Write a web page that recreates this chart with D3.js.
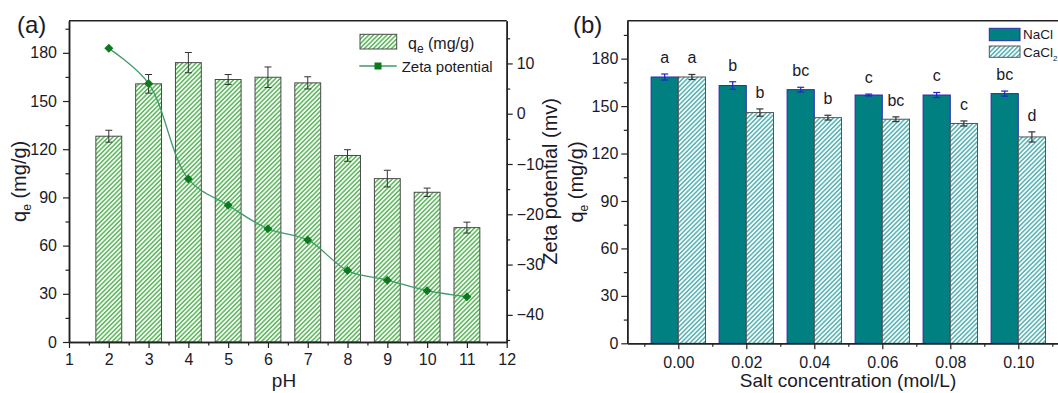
<!DOCTYPE html>
<html>
<head>
<meta charset="utf-8">
<script src="https://cdn.jsdelivr.net/npm/d3@7"></script>
<style>
	body { margin: 0; background: #fff; }
	svg { display: block; font-family: 'Liberation Sans', Arial, sans-serif; }
	.axis path, .axis line { stroke: #222; }
	.axis path { stroke-width: 1.5; }
	.axis line { stroke-width: 1.2; }
	.axis text { fill: #1a1a2a; font-size: 16px; font-family: 'Liberation Sans', Arial, sans-serif; }
</style>
</head>
<body>
<div class="chart"></div>
<script>
// panel (a): adsorption vs pH
const pH = [2, 3, 4, 5, 6, 7, 8, 9, 10, 11]
const qePH = [128.1, 160.7, 173.9, 163.4, 164.8, 161.3, 116.1, 101.7, 93.2, 71.2]
const qePHErr = [3.7, 5.8, 6.3, 3.1, 6.4, 3.8, 3.6, 5.2, 2.6, 3.4]
const zeta = [13.0, 6.0, -13.0, -18.2, -22.9, -25.1, -31.2, -33.1, -35.2, -36.4]
const pHTicks = [1, 2, 3, 4, 5, 6, 7, 8, 9, 10, 11, 12]
const qeTicks = [0, 30, 60, 90, 120, 150, 180]
const zetaTicks = [-40, -30, -20, -10, 0, 10]

// panel (b): salt effect
const salt = [0.00, 0.02, 0.04, 0.06, 0.08, 0.10]
const saltLabels = ['0.00', '0.02', '0.04', '0.06', '0.08', '0.10']
const naCl = [168.4, 163.0, 160.4, 157.0, 157.0, 157.9]
const naClErr = [1.9, 2.4, 1.5, 0.6, 1.6, 1.6]
const caCl2 = [168.4, 145.9, 142.7, 141.7, 139.0, 130.5]
const caCl2Err = [1.6, 2.3, 1.5, 1.5, 1.6, 3.2]
const naClLetters = ['a', 'b', 'bc', 'c', 'c', 'bc']
const caCl2Letters = ['a', 'b', 'b', 'bc', 'c', 'd']

const width = 1058
const height = 393
const textColor = '#1a1a2a'

const svg = d3.select('.chart')
	.append('svg')
	.attr('width', width)
	.attr('height', height)

const defs = svg.append('defs')

function hatch(id, color) {
	const p = defs.append('pattern')
		.attr('id', id)
		.attr('patternUnits', 'userSpaceOnUse')
		.attr('width', 3.2)
		.attr('height', 3.2)
		.attr('patternTransform', 'rotate(45)')
	p.append('rect').attr('width', 3.2).attr('height', 3.2).attr('fill', '#fff')
	p.append('rect').attr('width', 1.6).attr('height', 3.2).attr('fill', color)
}
hatch('hatchGreen', '#62bd62')
hatch('hatchTeal', '#5cb8b8')

function qeLabel(g, x, y) {
	const t = g.append('text')
		.attr('transform', 'translate(' + x + ',' + y + ') rotate(-90)')
		.attr('text-anchor', 'middle')
		.attr('fill', textColor)
		.style('font-size', '20px')
	t.append('tspan').text('q')
	t.append('tspan').attr('dy', 5).style('font-size', '12px').text('e')
	t.append('tspan').attr('dy', -5).text(' (mg/g)')
}

function minorAxis(axisFn, scale, values) {
	return axisFn(scale).tickValues(values).tickSize(3.5).tickSizeOuter(0).tickFormat('')
}

// ---------- panel (a) ----------
const a = { left: 69, right: 506.7, top: 20.7, bottom: 342 }

const xA = d3.scaleLinear().domain([1, 12]).range([a.left, a.right])
const yA = d3.scaleLinear().domain([0, 200]).range([a.bottom, a.top])
const yZ = d3.scaleLinear().domain([-45.4, 18.5]).range([a.bottom, a.top])

const gA = svg.append('g')

gA.selectAll('.barA')
	.data(pH)
	.enter()
	.append('rect')
	.attr('class', 'barA')
	.attr('x', (d) => xA(d - 0.325))
	.attr('width', xA(1.65) - xA(1))
	.attr('y', (d, i) => yA(qePH[i]))
	.attr('height', (d, i) => yA(0) - yA(qePH[i]))
	.attr('fill', 'url(#hatchGreen)')
	.attr('stroke', '#4a4a4a')
	.attr('stroke-width', 1)

const errA = gA.selectAll('.errA')
	.data(pH)
	.enter()
	.append('g')
	.attr('class', 'errA')
	.attr('stroke', '#333')
	.attr('stroke-width', 1)
errA.append('line')
	.attr('x1', (d) => xA(d)).attr('x2', (d) => xA(d))
	.attr('y1', (d, i) => yA(qePH[i] - qePHErr[i]))
	.attr('y2', (d, i) => yA(qePH[i] + qePHErr[i]))
errA.append('line')
	.attr('x1', (d) => xA(d) - 3.5).attr('x2', (d) => xA(d) + 3.5)
	.attr('y1', (d, i) => yA(qePH[i] - qePHErr[i]))
	.attr('y2', (d, i) => yA(qePH[i] - qePHErr[i]))
errA.append('line')
	.attr('x1', (d) => xA(d) - 3.5).attr('x2', (d) => xA(d) + 3.5)
	.attr('y1', (d, i) => yA(qePH[i] + qePHErr[i]))
	.attr('y2', (d, i) => yA(qePH[i] + qePHErr[i]))

const zetaLine = d3.line()
	.x((d, i) => xA(pH[i]))
	.y((d) => yZ(d))
	.curve(d3.curveCatmullRom.alpha(0.5))

gA.append('path')
	.datum(zeta)
	.attr('d', zetaLine)
	.attr('fill', 'none')
	.attr('stroke', '#3e9a68')
	.attr('stroke-width', 1.3)

gA.selectAll('.diamond')
	.data(zeta)
	.enter()
	.append('path')
	.attr('class', 'diamond')
	.attr('d', 'M0,-4.5L4.5,0L0,4.5L-4.5,0Z')
	.attr('transform', (d, i) => 'translate(' + xA(pH[i]) + ',' + yZ(d) + ')')
	.attr('fill', '#0b7a1c')

// frame
gA.append('path')
	.attr('d', 'M' + a.left + ',' + a.top + 'H' + a.right)
	.attr('stroke', '#222').attr('stroke-width', 1.5)

gA.append('g').attr('class', 'axis')
	.attr('transform', 'translate(0,' + a.bottom + ')')
	.call(d3.axisBottom(xA).tickValues(pHTicks).tickSize(6).tickSizeOuter(0).tickPadding(6).tickFormat(d3.format('d')))
gA.append('g').attr('class', 'axis')
	.attr('transform', 'translate(0,' + a.bottom + ')')
	.call(minorAxis(d3.axisBottom, xA, d3.range(1.5, 12, 1)))
gA.append('g').attr('class', 'axis')
	.attr('transform', 'translate(' + a.left + ',0)')
	.call(d3.axisLeft(yA).tickValues(qeTicks).tickSize(6).tickSizeOuter(0).tickPadding(6))
gA.append('g').attr('class', 'axis')
	.attr('transform', 'translate(' + a.left + ',0)')
	.call(minorAxis(d3.axisLeft, yA, d3.range(15, 200, 30)))
gA.append('g').attr('class', 'axis')
	.attr('transform', 'translate(' + a.right + ',0)')
	.call(d3.axisRight(yZ).tickValues(zetaTicks).tickSize(6).tickSizeOuter(0).tickPadding(4))
gA.append('g').attr('class', 'axis')
	.attr('transform', 'translate(' + a.right + ',0)')
	.call(minorAxis(d3.axisRight, yZ, [-45, -35, -25, -15, -5, 5, 15]))

gA.selectAll('.axis .domain').attr('stroke-width', 1.5)

// labels
gA.append('text')
	.attr('x', 17).attr('y', 33)
	.attr('fill', textColor)
	.style('font-size', '24px')
	.text('(a)')
qeLabel(gA, 26, (a.top + a.bottom) / 2)
gA.append('text')
	.attr('transform', 'translate(557,' + (a.top + a.bottom) / 2 + ') rotate(-90)')
	.attr('text-anchor', 'middle')
	.attr('fill', textColor)
	.style('font-size', '20px')
	.text('Zeta potential (mv)')
gA.append('text')
	.attr('x', 284).attr('y', 387)
	.attr('text-anchor', 'middle')
	.attr('fill', textColor)
	.style('font-size', '19px')
	.text('pH')

// legend
gA.append('rect')
	.attr('x', 360).attr('y', 34.3).attr('width', 36.7).attr('height', 14.7)
	.attr('fill', 'url(#hatchGreen)').attr('stroke', '#4a4a4a')
const legQ = gA.append('text')
	.attr('x', 408).attr('y', 48.5)
	.attr('fill', textColor)
	.style('font-size', '16px')
legQ.append('tspan').text('q')
legQ.append('tspan').attr('dy', 4).style('font-size', '12px').text('e')
legQ.append('tspan').attr('dy', -4).text(' (mg/g)')
gA.append('line')
	.attr('x1', 359.3).attr('x2', 396.7).attr('y1', 66).attr('y2', 66)
	.attr('stroke', '#3e9a68').attr('stroke-width', 1.3)
gA.append('rect')
	.attr('x', 374.5).attr('y', 62.5).attr('width', 7).attr('height', 7)
	.attr('fill', '#0b7a1c')
gA.append('text')
	.attr('x', 401.7).attr('y', 71.5)
	.attr('fill', textColor)
	.style('font-size', '15px')
	.text('Zeta potential')

// ---------- panel (b) ----------
const b = { left: 627.3, right: 1069.3, top: 20.7, bottom: 343.3 }

const xB = d3.scaleLinear().domain([-0.015, 0.115]).range([b.left, b.right])
const yB = d3.scaleLinear().domain([0, 204]).range([b.bottom, b.top])
const bw = 0.008

const gB = svg.append('g')

function drawSeries(vals, errs, letters, offset, fill, stroke, errColor) {
	gB.selectAll(null)
		.data(salt)
		.enter()
		.append('rect')
		.attr('x', (d) => xB(d + offset))
		.attr('width', xB(bw) - xB(0))
		.attr('y', (d, i) => yB(vals[i]))
		.attr('height', (d, i) => yB(0) - yB(vals[i]))
		.attr('fill', fill)
		.attr('stroke', stroke)
		.attr('stroke-width', 1)

	const cx = (d) => xB(d + offset + bw / 2)
	const e = gB.selectAll(null)
		.data(salt)
		.enter()
		.append('g')
		.attr('stroke', errColor)
		.attr('stroke-width', 1.2)
	e.append('line')
		.attr('x1', cx).attr('x2', cx)
		.attr('y1', (d, i) => yB(vals[i] - errs[i]))
		.attr('y2', (d, i) => yB(vals[i] + errs[i]))
	e.append('line')
		.attr('x1', (d) => cx(d) - 3.5).attr('x2', (d) => cx(d) + 3.5)
		.attr('y1', (d, i) => yB(vals[i] - errs[i]))
		.attr('y2', (d, i) => yB(vals[i] - errs[i]))
	e.append('line')
		.attr('x1', (d) => cx(d) - 3.5).attr('x2', (d) => cx(d) + 3.5)
		.attr('y1', (d, i) => yB(vals[i] + errs[i]))
		.attr('y2', (d, i) => yB(vals[i] + errs[i]))

	gB.selectAll(null)
		.data(salt)
		.enter()
		.append('text')
		.attr('x', cx)
		.attr('y', (d, i) => yB(vals[i] + errs[i]) - 11)
		.attr('text-anchor', 'middle')
		.attr('fill', textColor)
		.style('font-size', '16px')
		.text((d, i) => letters[i])
}

drawSeries(naCl, naClErr, naClLetters, -bw, '#008080', '#2b2bb0', '#2424c0')
drawSeries(caCl2, caCl2Err, caCl2Letters, 0, 'url(#hatchTeal)', '#555', '#333')

gB.append('path')
	.attr('d', 'M' + b.left + ',' + b.top + 'H' + b.right)
	.attr('stroke', '#222').attr('stroke-width', 1.5)

gB.append('g').attr('class', 'axis')
	.attr('transform', 'translate(0,' + b.bottom + ')')
	.call(d3.axisBottom(xB).tickValues(salt).tickSize(6).tickSizeOuter(0).tickPadding(7)
		.tickFormat((d, i) => saltLabels[i]))
gB.append('g').attr('class', 'axis')
	.attr('transform', 'translate(0,' + b.bottom + ')')
	.call(minorAxis(d3.axisBottom, xB, [-0.01, 0.01, 0.03, 0.05, 0.07, 0.09, 0.11]))
gB.append('g').attr('class', 'axis')
	.attr('transform', 'translate(' + b.left + ',0)')
	.call(d3.axisLeft(yB).tickValues(qeTicks).tickSize(6).tickSizeOuter(0).tickPadding(3))
gB.append('g').attr('class', 'axis')
	.attr('transform', 'translate(' + b.left + ',0)')
	.call(minorAxis(d3.axisLeft, yB, d3.range(15, 204, 30)))

gB.selectAll('.axis .domain').attr('stroke-width', 1.5)

gB.append('text')
	.attr('x', 573).attr('y', 33)
	.attr('fill', textColor)
	.style('font-size', '24px')
	.text('(b)')
qeLabel(gB, 583, (b.top + b.bottom) / 2)
gB.append('text')
	.attr('x', 848).attr('y', 387)
	.attr('text-anchor', 'middle')
	.attr('fill', textColor)
	.style('font-size', '19px')
	.text('Salt concentration (mol/L)')

// legend
gB.append('rect')
	.attr('x', 989.3).attr('y', 28.3).attr('width', 30.7).attr('height', 12.4)
	.attr('fill', '#008080').attr('stroke', '#2b2bb0')
gB.append('rect')
	.attr('x', 989.3).attr('y', 46).attr('width', 30.7).attr('height', 11.3)
	.attr('fill', 'url(#hatchTeal)').attr('stroke', '#555')
gB.append('text')
	.attr('x', 1023).attr('y', 38.7)
	.attr('fill', textColor)
	.style('font-size', '13.5px')
	.text('NaCl')
const legC = gB.append('text')
	.attr('x', 1023).attr('y', 56.5)
	.attr('fill', textColor)
	.style('font-size', '13.5px')
legC.append('tspan').text('CaCl')
legC.append('tspan').attr('dy', 4).style('font-size', '8px').text('2')
</script>
</body>
</html>
